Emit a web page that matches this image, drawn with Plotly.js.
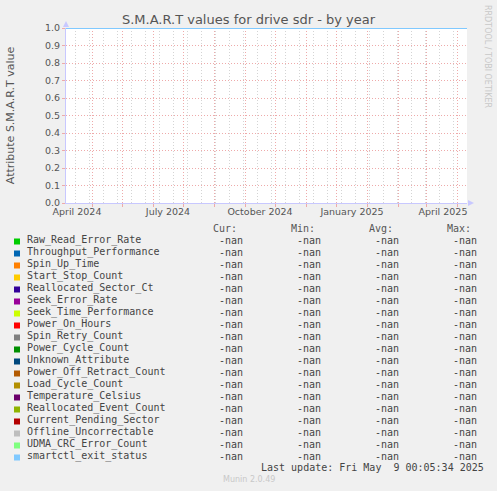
<!DOCTYPE html>
<html>
<head>
<meta charset="utf-8">
<script src="https://cdn.plot.ly/plotly-3.0.1.min.js"></script>
<style>
  html, body { margin: 0; padding: 0; background: #f0f0f0; }
  #chart { width: 497px; height: 491px; }
</style>
</head>
<body>
<div id="chart"></div>
<script>
// legend rows, top to bottom
const attrNames = [
  'Raw_Read_Error_Rate', 'Throughput_Performance', 'Spin_Up_Time', 'Start_Stop_Count',
  'Reallocated_Sector_Ct', 'Seek_Error_Rate', 'Seek_Time_Performance', 'Power_On_Hours',
  'Spin_Retry_Count', 'Power_Cycle_Count', 'Unknown_Attribute', 'Power_Off_Retract_Count',
  'Load_Cycle_Count', 'Temperature_Celsius', 'Reallocated_Event_Count', 'Current_Pending_Sector',
  'Offline_Uncorrectable', 'UDMA_CRC_Error_Count', 'smartctl_exit_status',
];
const attrColors = [
  '#00cc00', '#0066b3', '#ff8000', '#ffcc00',
  '#330099', '#990099', '#ccff00', '#ff0000',
  '#808080', '#008f00', '#00487d', '#b35a00',
  '#b38f00', '#6b006b', '#8fb300', '#b30000',
  '#bebebe', '#80ff80', '#80c9ff',
];
const curValues = ['-nan', '-nan', '-nan', '-nan', '-nan', '-nan', '-nan', '-nan', '-nan', '-nan',
  '-nan', '-nan', '-nan', '-nan', '-nan', '-nan', '-nan', '-nan', '-nan'];
const minValues = ['-nan', '-nan', '-nan', '-nan', '-nan', '-nan', '-nan', '-nan', '-nan', '-nan',
  '-nan', '-nan', '-nan', '-nan', '-nan', '-nan', '-nan', '-nan', '-nan'];
const avgValues = ['-nan', '-nan', '-nan', '-nan', '-nan', '-nan', '-nan', '-nan', '-nan', '-nan',
  '-nan', '-nan', '-nan', '-nan', '-nan', '-nan', '-nan', '-nan', '-nan'];
const maxValues = ['-nan', '-nan', '-nan', '-nan', '-nan', '-nan', '-nan', '-nan', '-nan', '-nan',
  '-nan', '-nan', '-nan', '-nan', '-nan', '-nan', '-nan', '-nan', '-nan'];

// the only series that draws anything: smartctl_exit_status sits at 1.0
const exitDates = ['2024-03-06', '2025-04-11'];
const exitValues = [1, 1];

// x axis labels (rrdtool puts them half a month before the 1st)
const tickDates = ['2024-03-17', '2024-06-16', '2024-09-16', '2024-12-17', '2025-03-18'];
const tickText = ['April 2024', 'July 2024', 'October 2024', 'January 2025', 'April 2025'];

const lastUpdate = 'Last update: Fri May\u00a0 9 00:05:34 2025';

const W = 497;
const H = 491;
const M = { l: 66, r: 30, t: 28, b: 288 };
const plotW = W - M.l - M.r;
const plotH = H - M.t - M.b;
// pixel -> paper coords
const px = (x) => (x - M.l) / plotW;
const py = (y) => (H - M.b - y) / plotH;

const gridRed = '#eeaaaa';
const gridGrey = '#d4d4d4';
const axisBlue = '#c8c8ff';
const textGrey = '#555';
const dots = '1px,2px';
const sans = 'DejaVu Sans, sans-serif';
const mono = 'DejaVu Sans Mono, monospace';

function label(x, y, text, opts) {
  return {
    xref: 'paper',
    yref: 'paper',
    x: px(x),
    y: py(y),
    text,
    showarrow: false,
    xanchor: 'left',
    yanchor: 'middle',
    borderpad: 0,
    font: { family: mono, size: 10, color: '#444' },
    ...opts,
  };
}

const annotations = [];
const shapes = [];

// column headers
annotations.push(label(211.5, 228, 'Cur:', { font: { family: mono, size: 10, color: textGrey } }));
annotations.push(label(289.5, 228, 'Min:', { font: { family: mono, size: 10, color: textGrey } }));
annotations.push(label(367.5, 228, 'Avg:', { font: { family: mono, size: 10, color: textGrey } }));
annotations.push(label(445.5, 228, 'Max:', { font: { family: mono, size: 10, color: textGrey } }));

attrNames.forEach((name, i) => {
  const rowY = 240 + 12 * i;
  annotations.push(label(25.5, rowY, name));
  annotations.push(label(217.5, rowY, curValues[i]));
  annotations.push(label(295.5, rowY, minValues[i]));
  annotations.push(label(373.5, rowY, avgValues[i]));
  annotations.push(label(451.5, rowY, maxValues[i]));
  // colour swatch
  shapes.push({
    type: 'rect',
    xref: 'paper',
    yref: 'paper',
    x0: px(14),
    x1: px(20),
    y0: py(rowY + 4.5),
    y1: py(rowY - 1.5),
    fillcolor: attrColors[i],
    line: { width: 0 },
  });
});

annotations.push(label(259.5, 467, lastUpdate));
annotations.push(label(222, 479, 'Munin 2.0.49', { font: { family: sans, size: 8, color: '#c8c8c8' } }));
annotations.push({
  xref: 'paper',
  yref: 'paper',
  x: px(488),
  y: py(56),
  xanchor: 'center',
  yanchor: 'middle',
  text: 'RRDTOOL / TOBI OETIKER',
  textangle: 90,
  showarrow: false,
  font: { family: sans, size: 8, color: '#c8c8c8' },
});

// axis arrow heads
shapes.push({
  type: 'path',
  xref: 'paper',
  yref: 'paper',
  path: `M ${px(63)} ${py(27)} L ${px(69)} ${py(27)} L ${px(66)} ${py(21)} Z`,
  fillcolor: axisBlue,
  line: { width: 0 },
});
shapes.push({
  type: 'path',
  xref: 'paper',
  yref: 'paper',
  path: `M ${px(468)} ${py(200)} L ${px(468)} ${py(206)} L ${px(474)} ${py(203)} Z`,
  fillcolor: axisBlue,
  line: { width: 0 },
});

const traces = [
  {
    type: 'scatter',
    mode: 'lines',
    name: 'smartctl_exit_status',
    x: exitDates,
    y: exitValues,
    line: { color: attrColors[18], width: 2 },
    hoverinfo: 'skip',
  },
  // empty trace so the monthly grid axis gets drawn
  {
    type: 'scatter',
    mode: 'lines',
    x: [],
    y: [],
    xaxis: 'x2',
    hoverinfo: 'skip',
  },
];

const layout = {
  width: W,
  height: H,
  margin: M,
  paper_bgcolor: '#f0f0f0',
  plot_bgcolor: '#ffffff',
  showlegend: false,
  title: {
    text: 'S.M.A.R.T values for drive sdr - by year',
    xref: 'container',
    x: 0.5,
    y: 1 - 19 / H,
    yanchor: 'middle',
    font: { family: sans, size: 13, color: textGrey },
  },
  // labels + fortnightly grey grid
  xaxis: {
    type: 'date',
    range: [exitDates[0], exitDates[1]],
    tickvals: tickDates,
    ticktext: tickText,
    showgrid: false,
    ticks: '',
    showline: true,
    linecolor: axisBlue,
    zeroline: false,
    tickfont: { family: sans, size: 9.5, color: textGrey },
    minor: {
      tick0: '2024-03-15',
      dtick: 14 * 86400000,
      showgrid: true,
      gridcolor: gridGrey,
      griddash: dots,
      ticks: '',
    },
    fixedrange: true,
  },
  // monthly red grid
  xaxis2: {
    type: 'date',
    overlaying: 'x',
    side: 'bottom',
    anchor: 'y',
    range: [exitDates[0], exitDates[1]],
    tick0: '2024-04-01',
    dtick: 'M1',
    showgrid: true,
    gridcolor: gridRed,
    griddash: dots,
    showticklabels: false,
    ticks: 'outside',
    ticklen: 3,
    tickcolor: gridRed,
    showline: false,
    zeroline: false,
    fixedrange: true,
  },
  yaxis: {
    range: [0, 1],
    tick0: 0,
    dtick: 0.1,
    tickformat: '.1f',
    showgrid: true,
    gridcolor: gridRed,
    griddash: dots,
    zeroline: false,
    showline: true,
    linecolor: axisBlue,
    ticks: 'outside',
    ticklen: 3,
    tickcolor: gridRed,
    tickfont: { family: sans, size: 9.5, color: textGrey },
    title: {
      text: 'Attribute S.M.A.R.T value',
      standoff: 28,
      font: { family: sans, size: 11, color: textGrey },
    },
    fixedrange: true,
  },
  annotations,
  shapes,
};

Plotly.newPlot('chart', traces, layout, { displayModeBar: false, staticPlot: true });
</script>
</body>
</html>
